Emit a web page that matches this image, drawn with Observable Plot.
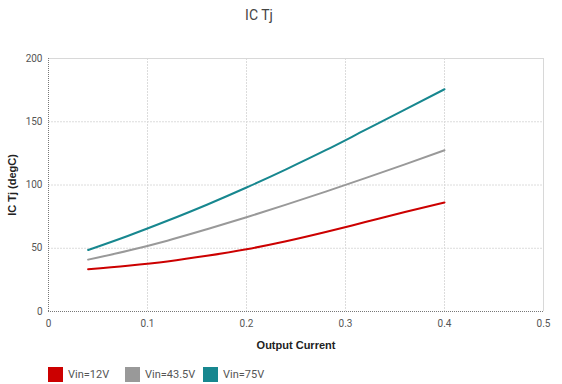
<!DOCTYPE html>
<html>
<head>
<meta charset="utf-8">
<script src="https://cdn.jsdelivr.net/npm/d3@7"></script>
<script src="https://cdn.jsdelivr.net/npm/@observablehq/plot@0.6"></script>
<style>
  html, body { margin: 0; padding: 0; background: #fff; }
  #wrap { position: relative; width: 562px; height: 384px; overflow: hidden; font-family: Roboto, "Liberation Sans", sans-serif; }
  #title { position: absolute; left: 0; width: 518px; top: 7px; text-align: center; font-size: 14px; color: #444; }
  #chart { position: absolute; left: 0; top: 0; }
  #legend { position: absolute; left: 48px; top: 367px; display: flex; align-items: center; font-size: 11px; color: #555; }
  .item { display: flex; align-items: center; }
  .sw { width: 15px; height: 15px; margin-right: 5px; }
</style>
</head>
<body>
<div id="wrap">
  <div id="title">IC Tj</div>
  <div id="chart"></div>
  <div id="legend"></div>
</div>
<script>
const current = [0.04, 0.08, 0.12, 0.16, 0.2, 0.24, 0.28, 0.32, 0.36, 0.4];
const tj12 = [33.4, 36.2, 39.6, 44, 49.2, 55.5, 62.8, 70.7, 78.6, 86.2];
const tj43 = [41, 48, 56, 65, 74.5, 84.5, 94.8, 105.4, 116.3, 127.5];
const tj75 = [48.6, 59.7, 71.7, 84.4, 98, 112.4, 127.5, 143.5, 159.5, 175.7];
const seriesNames = ["Vin=12V", "Vin=43.5V", "Vin=75V"];
const seriesColors = ["#cc0000", "#999999", "#17878f"];
const xTicks = [0, 0.1, 0.2, 0.3, 0.4, 0.5];
const yTicks = [0, 50, 100, 150, 200];

const seriesValues = [tj12, tj43, tj75];
const data = [];
seriesValues.forEach((vals, s) => {
  vals.forEach((v, i) => data.push({series: seriesNames[s], x: current[i], y: v}));
});

const chart = Plot.plot({
  width: 562,
  height: 360,
  marginLeft: 48,
  marginRight: 19,
  marginTop: 58,
  marginBottom: 49,
  style: {fontFamily: "Roboto, 'Liberation Sans', sans-serif", fontSize: "10px", color: "#555", background: "transparent"},
  x: {domain: [0, 0.5], label: null},
  y: {domain: [0, 200], label: null},
  color: {domain: seriesNames, range: seriesColors},
  marks: [
    Plot.gridX(xTicks.slice(1), {stroke: "#dcdcdc", strokeOpacity: 1, strokeDasharray: "2,1"}),
    Plot.gridY(yTicks.slice(1), {stroke: "#dcdcdc", strokeOpacity: 1, strokeDasharray: "2,1"}),
    Plot.ruleY([200], {stroke: "#d8d8d8"}),
    Plot.ruleX([0.5], {stroke: "#d8d8d8"}),
    Plot.ruleX([0], {stroke: "#777", strokeDasharray: "1,1"}),
    Plot.ruleY([0], {stroke: "#777", strokeDasharray: "1,1"}),
    Plot.axisX(xTicks, {tickSize: 0, tickPadding: 8, fill: "#555", fontSize: 10, label: null, tickFormat: d => String(d)}),
    Plot.axisY(yTicks, {tickSize: 0, tickPadding: 6, fill: "#555", fontSize: 10, label: null}),
    Plot.line(data, {x: "x", y: "y", z: "series", stroke: "series", strokeWidth: 2, curve: "monotone-x"}),
    Plot.text(["Output Current"], {frameAnchor: "bottom", dy: 37, fontWeight: "bold", fontSize: 11, fill: "#222", fontFamily: "'Liberation Sans', Arial, sans-serif"}),
    Plot.text(["IC Tj (degC)"], {frameAnchor: "left", textAnchor: "middle", dx: -36, rotate: -90, fontWeight: "bold", fontSize: 11, fill: "#222", fontFamily: "'Liberation Sans', Arial, sans-serif"})
  ]
});
document.getElementById("chart").appendChild(chart);

const legend = document.getElementById("legend");
const widths = [77, 78, 0];
seriesNames.forEach((name, i) => {
  const item = document.createElement("div");
  item.className = "item";
  item.style.width = widths[i] ? widths[i] + "px" : "auto";
  const sw = document.createElement("div");
  sw.className = "sw";
  sw.style.background = seriesColors[i];
  const label = document.createElement("span");
  label.textContent = name;
  item.appendChild(sw);
  item.appendChild(label);
  legend.appendChild(item);
});
</script>
</body>
</html>
